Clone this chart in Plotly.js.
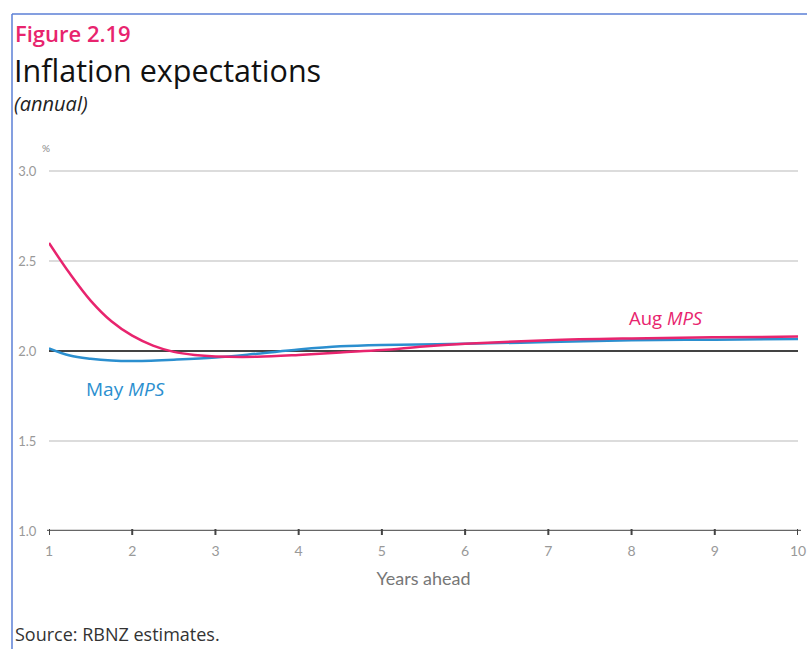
<!DOCTYPE html>
<html><head><meta charset="utf-8">
<script src="https://cdn.plot.ly/plotly-3.0.1.min.js"></script>
<style>html,body{margin:0;padding:0;background:#fff}#chart{width:807px;height:649px}</style>
</head><body><div id="chart"></div>
<script>
const yearsAug = [1, 1.25, 1.5, 1.75, 2, 2.25, 2.5, 2.75, 3, 3.5, 4, 4.5, 5, 5.5, 6, 7, 8, 9, 10];
const augMPS   = [2.60, 2.43, 2.28, 2.165, 2.085, 2.03, 1.995, 1.978, 1.97, 1.968, 1.978, 1.992, 2.005, 2.025, 2.04, 2.06, 2.07, 2.076, 2.08];
const yearsMay = [1, 1.25, 1.5, 1.75, 2, 2.5, 3, 3.5, 4, 4.5, 5, 6, 7, 8, 9, 10];
const mayMPS   = [2.015, 1.975, 1.957, 1.947, 1.944, 1.952, 1.964, 1.985, 2.008, 2.026, 2.034, 2.04, 2.05, 2.06, 2.063, 2.066];
const targetYears = [1, 10];
const targetLevel = [2.0, 2.0];
const xTicks = [1, 2, 3, 4, 5, 6, 7, 8, 9, 10];
const yTicks = [1.0, 1.5, 2.0, 2.5, 3.0];
const yTickLabels = ['1.0', '1.5', '2.0', '2.5', '3.0'];

const pink = '#e8246e';
const blue = '#2b8fcf';
const tfont = '"Open Sans", sans-serif';
const afont = 'Lato, sans-serif';

const traces = [
  {x: targetYears, y: targetLevel, mode: 'lines', line: {color: '#111', width: 1.5}, hoverinfo: 'skip'},
  {x: yearsMay, y: mayMPS, mode: 'lines', line: {color: blue, width: 2.5, shape: 'spline', smoothing: 1}, hoverinfo: 'skip'},
  {x: yearsAug, y: augMPS, mode: 'lines', line: {color: pink, width: 2.5, shape: 'spline', smoothing: 1}, hoverinfo: 'skip'}
];

const L = 49, R = 9, T = 167, B = 118, W = 807, H = 649;
const pw = W - L - R, ph = H - T - B;
const px = v => (v - L) / pw;
const py = v => (H - B - v) / ph;

const layout = {
  width: W, height: H,
  margin: {l: L, r: R, t: T, b: B},
  paper_bgcolor: '#fff', plot_bgcolor: '#fff',
  showlegend: false,
  font: {family: afont, color: '#888'},
  xaxis: {
    range: [1, 10], tickvals: xTicks, ticktext: xTicks.map(String),
    showgrid: false, zeroline: false, showline: false,
    ticks: 'outside', ticklen: 7, tickwidth: 1.5, tickcolor: 'rgba(0,0,0,0)',
    tickfont: {size: 14, color: '#999', family: afont},
    title: {text: 'Years ahead', font: {size: 18, color: '#777', family: afont}, standoff: 14}
  },
  yaxis: {
    range: [1, 1 + ph / 180], tickvals: yTicks, ticktext: yTickLabels,
    showgrid: true, gridcolor: '#dcdcdc', gridwidth: 1.5, zeroline: false, showline: false,
    ticks: 'outside', ticklen: 9, tickcolor: 'rgba(0,0,0,0)',
    tickfont: {size: 13, color: '#999', family: afont}
  },
  shapes: [
    {type: 'line', xref: 'paper', yref: 'y', x0: px(47), x1: px(801), y0: 1, y1: 1, line: {color: '#666', width: 2.5}},
    ...xTicks.map(t => ({type: 'line', xref: 'x', yref: 'paper', x0: t, x1: t, y0: py(529), y1: py(535), line: {color: '#444', width: 2}})),
    {type: 'line', xref: 'paper', yref: 'paper', x0: px(12), x1: px(12), y0: py(14), y1: py(649), line: {color: '#5b7fd6', width: 1.5}},
    {type: 'line', xref: 'paper', yref: 'paper', x0: px(12), x1: px(807), y0: py(14), y1: py(14), line: {color: '#5b7fd6', width: 1.5}}
  ],
  annotations: [
    {xref: 'paper', yref: 'paper', x: px(13), y: py(33), xanchor: 'left', yanchor: 'middle', showarrow: false,
     text: 'Figure 2.19', font: {size: 22, color: pink, family: tfont, weight: 600}},
    {xref: 'paper', yref: 'paper', x: px(12), y: py(70), xanchor: 'left', yanchor: 'middle', showarrow: false,
     text: 'Inflation expectations', font: {size: 30.5, color: '#111', family: tfont, weight: 500}},
    {xref: 'paper', yref: 'paper', x: px(12), y: py(104), xanchor: 'left', yanchor: 'middle', showarrow: false,
     text: '<i>(annual)</i>', font: {size: 20, color: '#222', family: tfont}},
    {xref: 'paper', yref: 'paper', x: px(46), y: py(148), xanchor: 'center', yanchor: 'middle', showarrow: false,
     text: '%', font: {size: 10, color: '#888', family: afont}},
    {xref: 'paper', yref: 'paper', x: px(666), y: py(317), xanchor: 'center', yanchor: 'middle', showarrow: false,
     text: 'Aug <i>MPS</i>', font: {size: 18.5, color: pink, family: tfont}},
    {xref: 'paper', yref: 'paper', x: px(125), y: py(389), xanchor: 'center', yanchor: 'middle', showarrow: false,
     text: 'May <i>MPS</i>', font: {size: 19, color: blue, family: tfont}},
    {xref: 'paper', yref: 'paper', x: px(13), y: py(634), xanchor: 'left', yanchor: 'middle', showarrow: false,
     text: 'Source: RBNZ estimates.', font: {size: 18, color: '#333', family: tfont}}
  ]
};

Plotly.newPlot('chart', traces, layout, {displayModeBar: false, staticPlot: true});
</script></body></html>
